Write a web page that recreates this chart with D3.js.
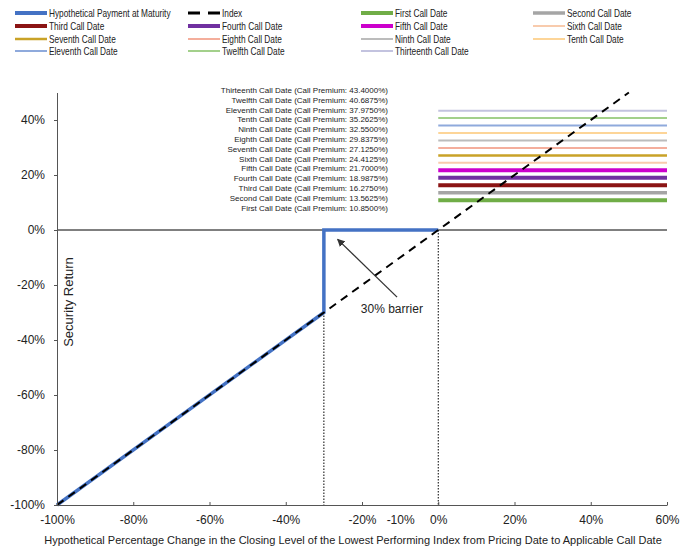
<!DOCTYPE html>
<html>
<head>
<meta charset="utf-8">
<script src="https://cdn.jsdelivr.net/npm/d3@7"></script>
<style>
  body { margin: 0; background: #fff; }
  svg { font-family: "Liberation Sans", Arial, sans-serif; }
</style>
</head>
<body>
<svg id="chart" width="689" height="555"></svg>
<script>
// call dates and their premiums (%)
const callNames = ["First", "Second", "Third", "Fourth", "Fifth", "Sixth", "Seventh",
  "Eighth", "Ninth", "Tenth", "Eleventh", "Twelfth", "Thirteenth"]
const callPremiums = [10.85, 13.5625, 16.275, 18.9875, 21.7, 24.4125, 27.125,
  29.8375, 32.55, 35.2625, 37.975, 40.6875, 43.4]
const callLabels = ["10.8500%", "13.5625%", "16.2750%", "18.9875%", "21.7000%", "24.4125%",
  "27.1250%", "29.8375%", "32.5500%", "35.2625%", "37.9750%", "40.6875%", "43.4000%"]
const callRange = [0, 60]

// payoff at maturity and index return
const paymentX = [-100, -30, -30, 0]
const paymentY = [-100, -30, 0, 0]
const indexX = [-100, 50]
const indexY = [-100, 50]
const barrier = -30

const xTicks = [-100, -80, -60, -40, -20, -10, 0, 20, 40, 60]
const yTicks = [-100, -80, -60, -40, -20, 0, 20, 40]

// styles
const callColors = ["#70ad47", "#a5a5a5", "#8b1414", "#7030a0", "#cc00cc", "#f8cbad", "#c9a227",
  "#f4ae9c", "#bcbcbc", "#fdd598", "#8faadc", "#a3d08b", "#c3c3df"]
const callWidths = [4, 3.5, 4, 4, 4, 2, 2.5, 2, 2, 2, 2, 2, 2]
const payColor = "#4472c4"

const svg = d3.select('#chart')

const x = d3.scaleLinear().domain([-100, 60]).range([57, 667])
const y = d3.scaleLinear().domain([-100, 50]).range([505, 92.5])

// zero line
svg.append('line')
  .attr('x1', x(-100)).attr('x2', x(60))
  .attr('y1', y(0)).attr('y2', y(0))
  .attr('stroke', '#000').attr('stroke-width', 1)

// call premium lines
callPremiums.forEach(function(p, i) {
  svg.append('line')
    .attr('x1', x(callRange[0])).attr('x2', x(callRange[1]))
    .attr('y1', y(p)).attr('y2', y(p))
    .attr('stroke', callColors[i])
    .attr('stroke-width', callWidths[i])
})

// dotted verticals at barrier and 0%
svg.append('line')
  .attr('x1', x(barrier)).attr('x2', x(barrier))
  .attr('y1', y(barrier)).attr('y2', y(-100))
  .attr('stroke', '#000').attr('stroke-dasharray', '1.5,1.5')
svg.append('line')
  .attr('x1', x(0)).attr('x2', x(0))
  .attr('y1', y(0)).attr('y2', y(-100))
  .attr('stroke', '#000').attr('stroke-dasharray', '1.5,1.5')

// hypothetical payment
const line = d3.line().x(d => x(d[0])).y(d => y(d[1]))
svg.append('path')
  .attr('d', line(d3.zip(paymentX, paymentY)))
  .attr('fill', 'none')
  .attr('stroke', payColor)
  .attr('stroke-width', 3.5)

// index
svg.append('path')
  .attr('d', line(d3.zip(indexX, indexY)))
  .attr('fill', 'none')
  .attr('stroke', '#000')
  .attr('stroke-width', 2)
  .attr('stroke-dasharray', '8,6')

// axes
const xAxis = svg.append('g')
  .attr('transform', 'translate(0,' + y(-100) + ')')
  .call(d3.axisBottom(x).tickValues(xTicks).tickFormat(d => d + '%').tickSize(-3).tickSizeOuter(0))
xAxis.selectAll('.tick text').attr('y', 10).attr('font-size', 12).attr('fill', '#222')
xAxis.selectAll('.tick').filter(d => d === -10).select('line').remove()

const yAxis = svg.append('g')
  .attr('transform', 'translate(' + x(-100) + ',0)')
  .call(d3.axisLeft(y).tickValues(yTicks).tickFormat(d => d + '%').tickSize(3).tickSizeOuter(0))
yAxis.selectAll('.tick text').attr('x', -12).attr('font-size', 12).attr('fill', '#222')
svg.selectAll('.domain, .tick line').attr('stroke', '#555')

// titles
svg.append('text')
  .attr('x', 353).attr('y', 544)
  .attr('text-anchor', 'middle')
  .attr('font-size', 11)
  .attr('fill', '#222')
  .text('Hypothetical Percentage Change in the Closing Level of the Lowest Performing Index from Pricing Date to Applicable Call Date')

svg.append('text')
  .attr('transform', 'translate(73,302) rotate(-90)')
  .attr('text-anchor', 'middle')
  .attr('font-size', 13)
  .attr('fill', '#222')
  .text('Security Return')

// call premium labels, stacked
callNames.forEach(function(n, i) {
  svg.append('text')
    .attr('x', 388)
    .attr('y', 93 + (callNames.length - 1 - i) * 9.8)
    .attr('text-anchor', 'end')
    .attr('font-size', 8)
    .attr('fill', '#222')
    .text(n + ' Call Date (Call Premium: ' + callLabels[i] + ')')
})

// barrier annotation
const arrowFrom = [-10.8, -24.4]
const arrowTo = [-26.4, -3.4]
svg.append('defs').append('marker')
  .attr('id', 'arrow')
  .attr('viewBox', '0 0 10 10')
  .attr('refX', 9).attr('refY', 5)
  .attr('markerWidth', 6).attr('markerHeight', 6)
  .attr('orient', 'auto')
  .append('path')
  .attr('d', 'M0,0L10,5L0,10z')
  .attr('fill', '#333')
svg.append('line')
  .attr('x1', x(arrowFrom[0])).attr('y1', y(arrowFrom[1]))
  .attr('x2', x(arrowTo[0])).attr('y2', y(arrowTo[1]))
  .attr('stroke', '#333').attr('stroke-width', 1.3)
  .attr('marker-end', 'url(#arrow)')
svg.append('text')
  .attr('x', x(-20.3)).attr('y', y(-30.3))
  .attr('font-size', 12)
  .attr('fill', '#222')
  .text('30% barrier')

// legend
const legendItems = [
  { name: 'Hypothetical Payment at Maturity', color: payColor, width: 4 },
  { name: 'Index', color: '#000', width: 3, dash: '12,8' }
].concat(callNames.map(function(n, i) {
  return { name: n + ' Call Date', color: callColors[i], width: callWidths[i] }
}))
const colX = [15, 188, 361, 533]
const rowY = [13, 26, 39, 51]
legendItems.forEach(function(d, i) {
  const g = svg.append('g')
    .attr('transform', 'translate(' + colX[i % 4] + ',' + rowY[Math.floor(i / 4)] + ')')
  g.append('line')
    .attr('x1', 0).attr('x2', 32)
    .attr('stroke', d.color)
    .attr('stroke-width', d.width)
    .attr('stroke-dasharray', d.dash || null)
  g.append('text')
    .attr('transform', 'translate(34,3.5) scale(0.83,1)')
    .attr('font-size', 10)
    .attr('fill', '#222')
    .text(d.name)
})
</script>
</body>
</html>
